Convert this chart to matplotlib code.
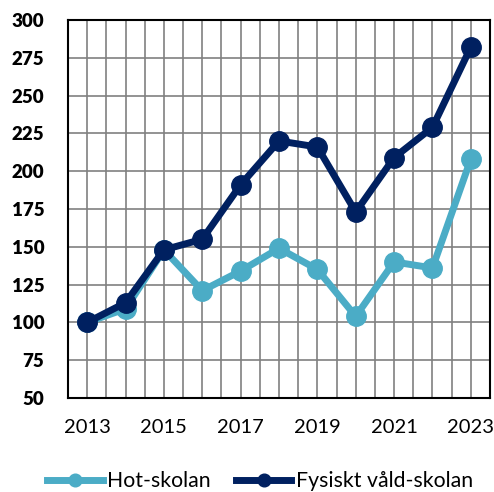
import matplotlib
matplotlib.use("Agg")
import matplotlib.pyplot as plt
import numpy as np

years = [2013, 2014, 2015, 2016, 2017, 2018, 2019, 2020, 2021, 2022, 2023]
hot = [100, 109, 148, 121, 134, 149, 135, 104, 140, 136, 208]
vald = [100, 113, 148, 155, 191, 220, 216, 173, 209, 229, 282]
labels = ["Hot-skolan", "Fysiskt våld-skolan"]
xticks = [2013, 2015, 2017, 2019, 2021, 2023]
yticks = list(range(50, 301, 25))

plt.rcParams['font.family'] = ['Lato', 'DejaVu Sans']

fig = plt.figure(figsize=(4.94, 4.92), dpi=100)
ax = fig.add_axes([68/494, 1 - 398/492, (490-68)/494, (398-20)/492])

light = '#4BACC6'
dark = '#002060'
ax.plot(years, hot, color=light, lw=5, marker='o', ms=14, label=labels[0], zorder=3)
ax.plot(years, vald, color=dark, lw=5, marker='o', ms=14, label=labels[1], zorder=4)

ax.set_xlim(2012.5, 2023.5)
ax.set_ylim(50, 300)
ax.set_xticks(xticks)
ax.set_xticks(np.arange(2012.5, 2023.51, 0.5), minor=True)
ax.set_yticks(yticks)
ax.grid(True, which='both', axis='x', color='#808080', lw=1.2)
ax.grid(True, which='major', axis='y', color='#808080', lw=1.2)
ax.set_axisbelow(True)
ax.tick_params(which='both', length=0)
ax.tick_params(axis='y', pad=17, labelsize=13.5)
ax.tick_params(axis='x', pad=15, labelsize=14.5)
for t in ax.get_yticklabels():
    t.set_fontweight('heavy')
for s in ax.spines.values():
    s.set_color('black')
    s.set_linewidth(1.5)

fig.legend(loc='center', bbox_to_anchor=(260/494, 1 - 481/492), ncol=2, frameon=False,
           fontsize=15.3, handlelength=2.6, columnspacing=1.2, handletextpad=0.2,
           markerscale=0.65)

fig.savefig('out.png', dpi=100)
